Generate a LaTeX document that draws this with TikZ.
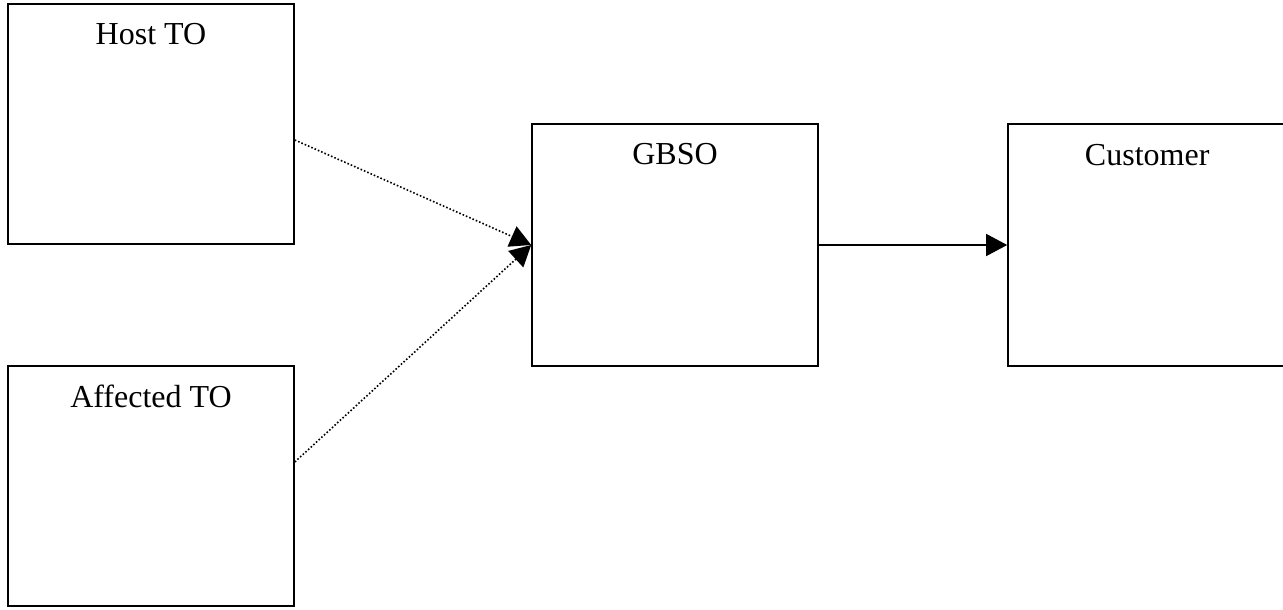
\documentclass[tikz,border=0pt]{standalone}
\usepackage{fontspec}
\setmainfont{Liberation Serif}
\usetikzlibrary{arrows.meta}
\begin{document}
\begin{tikzpicture}[x=1pt,y=-1pt,
    box/.style={draw,line width=1.6pt,minimum width=286pt,minimum height=240pt,inner sep=0pt},
    lbl/.style={anchor=base,font=\fontsize{32}{38}\selectfont},
    flow/.style={line width=1.4pt,-{Triangle[length=21pt,width=22pt]}},
    feed/.style={flow,line width=1.6pt,dash pattern=on 1.6pt off 2pt}]
        \useasboundingbox (0,0) rectangle (1283,610);
        \node[box] (host) at (151,124) {};
        \node[box] (aff) at (151,486) {};
        \node[box,minimum height=242pt] (gbso) at (675,245) {};
        \node[box,minimum width=296pt,minimum height=242pt] (cust) at (1156,245) {};
        \node[lbl] (hostlbl) at ([yshift=-41pt]host.north) {Host TO};
        \node[lbl] (afflbl) at ([yshift=-42pt]aff.north) {Affected TO};
        \node[lbl] (gbsolbl) at ([yshift=-41pt]gbso.north) {GBSO};
        \node[lbl] (custlbl) at ([xshift=140pt,yshift=-42pt]cust.north west) {Customer};
        \draw[feed] ([yshift=-16pt]host.east) -- (gbso.west);
        \draw[feed] ([yshift=24pt]aff.east) -- (gbso.west);
        \draw[flow] (gbso.east) -- (cust.west);
    \end{tikzpicture}
\end{document}
